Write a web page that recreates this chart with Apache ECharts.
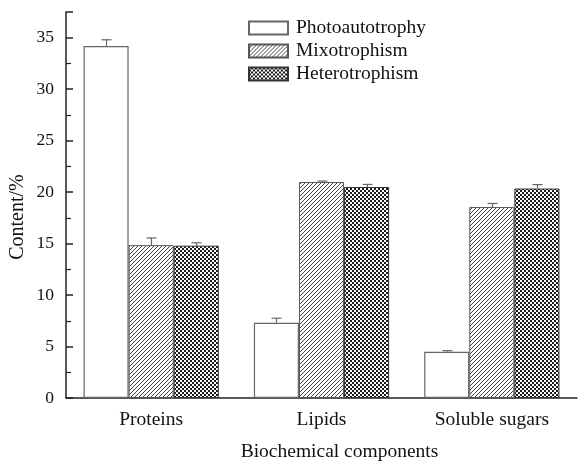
<!DOCTYPE html>
<html>
<head>
<meta charset="utf-8">
<script src="https://cdn.jsdelivr.net/npm/echarts@6/dist/echarts.min.js"></script>
<style>
html, body { margin: 0; padding: 0; background: #fff; }
#main { width: 583px; height: 461px; }
</style>
</head>
<body>
<div id="main"></div>
<script type="text/javascript">

var categories = ['Proteins', 'Lipids', 'Soluble sugars'];
var photoVals = [34.2, 7.3, 4.5];
var photoErr = [0.6, 0.45, 0.1];
var mixoVals = [14.85, 20.98, 18.55];
var mixoErr = [0.7, 0.1, 0.35];
var heteroVals = [14.8, 20.5, 20.35];
var heteroErr = [0.28, 0.25, 0.38];

var gapRatio = 0.206;

// hatch "///"
function makeHatch() {
	var c = document.createElement('canvas');
	c.width = 4; c.height = 4;
	var ctx = c.getContext('2d');
	ctx.fillStyle = '#fff';
	ctx.fillRect(0, 0, 4, 4);
	ctx.strokeStyle = '#333';
	ctx.lineWidth = 0.9;
	ctx.beginPath();
	ctx.moveTo(-1, 5); ctx.lineTo(5, -1);
	ctx.moveTo(-1, 1); ctx.lineTo(1, -1);
	ctx.moveTo(3, 5); ctx.lineTo(5, 3);
	ctx.stroke();
	return c;
}

// checker
function makeChecker() {
	var c = document.createElement('canvas');
	c.width = 4; c.height = 4;
	var ctx = c.getContext('2d');
	ctx.fillStyle = '#1a1a1a';
	ctx.fillRect(0, 0, 4, 4);
	ctx.fillStyle = '#fff';
	ctx.fillRect(0, 0, 2, 2);
	ctx.fillRect(2, 2, 2, 2);
	return c;
}

function errSeries(vals, errs, offset) {
	var data = [];
	for (var i = 0; i < vals.length; i++) {
		data.push([i, vals[i], errs[i]]);
	}
	return {
		type: 'custom',
		data: data,
		z: 5,
		silent: true,
		renderItem: function (params, api) {
			var x = api.value(0);
			var v = api.value(1);
			var e = api.value(2);
			var base = api.coord([x, v]);
			var top = api.coord([x, v + e]);
			var band = api.size([1, 0])[0];
			var bw = band * (1 - gapRatio) / 3;
			var cx = Math.round(base[0] + offset * bw) + 0.5;
			var st = { stroke: '#666', lineWidth: 1.2 };
			return {
				type: 'group',
				children: [
					{ type: 'line', shape: { x1: cx, y1: base[1], x2: cx, y2: top[1] }, style: st },
					{ type: 'line', shape: { x1: cx - 5, y1: top[1], x2: cx + 5, y2: top[1] }, style: st }
				]
			};
		}
	};
}

var chart = echarts.init(document.getElementById('main'));

var font = 'Liberation Serif';

var option = {
	animation: false,
	textStyle: { fontFamily: font },
	grid: { left: 66, right: 6, top: 12, bottom: 63, containLabel: false, outerBoundsMode: 'none' },
	legend: {
		orient: 'vertical',
		left: 248,
		top: 18,
		padding: 0,
		itemWidth: 39,
		itemHeight: 13,
		itemGap: 3,
		icon: 'rect',
		data: ['Photoautotrophy', 'Mixotrophism', 'Heterotrophism'],
		textStyle: { fontFamily: font, fontSize: 19.5, lineHeight: 20, color: '#111', padding: [0, 0, 0, 3] }
	},
	xAxis: {
		type: 'category',
		data: categories,
		name: 'Biochemical components',
		nameLocation: 'middle',
		nameGap: 44,
		nameMoveOverlap: false,
		nameTextStyle: { fontFamily: font, fontSize: 19.5, color: '#111', padding: [0, 0, 0, 36] },
		axisLine: { lineStyle: { color: '#222', width: 1.5 } },
		axisTick: { show: false },
		axisLabel: { fontFamily: font, fontSize: 19.5, color: '#111', margin: 12 }
	},
	yAxis: {
		type: 'value',
		min: 0,
		max: 37.5,
		interval: 5,
		name: 'Content/%',
		nameLocation: 'middle',
		nameGap: 38,
		nameMoveOverlap: false,
		nameTextStyle: { fontFamily: font, fontSize: 20, color: '#111', padding: [0, 24, 0, 0] },
		axisLine: { show: true, lineStyle: { color: '#222', width: 1.5 } },
		axisTick: { show: true, inside: true, length: 7, lineStyle: { color: '#222', width: 1.5 } },
		minorTick: { show: true, splitNumber: 2, length: 5, lineStyle: { color: '#222', width: 1.2 } },
		splitLine: { show: false },
		axisLabel: { fontFamily: font, fontSize: 17.5, color: '#111', margin: 12, showMaxLabel: false }
	},
	series: [
		{
			name: 'Photoautotrophy',
			type: 'bar',
			data: photoVals,
			barGap: '0%',
			barCategoryGap: (gapRatio * 100) + '%',
			itemStyle: { color: '#fff', borderColor: '#666', borderWidth: 1.2 }
		},
		{
			name: 'Mixotrophism',
			type: 'bar',
			data: mixoVals,
			itemStyle: { color: { image: makeHatch(), repeat: 'repeat' }, borderColor: '#555', borderWidth: 1 }
		},
		{
			name: 'Heterotrophism',
			type: 'bar',
			data: heteroVals,
			itemStyle: { color: { image: makeChecker(), repeat: 'repeat' }, borderColor: '#333', borderWidth: 1 }
		},
		errSeries(photoVals, photoErr, -1),
		errSeries(mixoVals, mixoErr, 0),
		errSeries(heteroVals, heteroErr, 1)
	]
};

chart.setOption(option);
</script>
</body>
</html>
